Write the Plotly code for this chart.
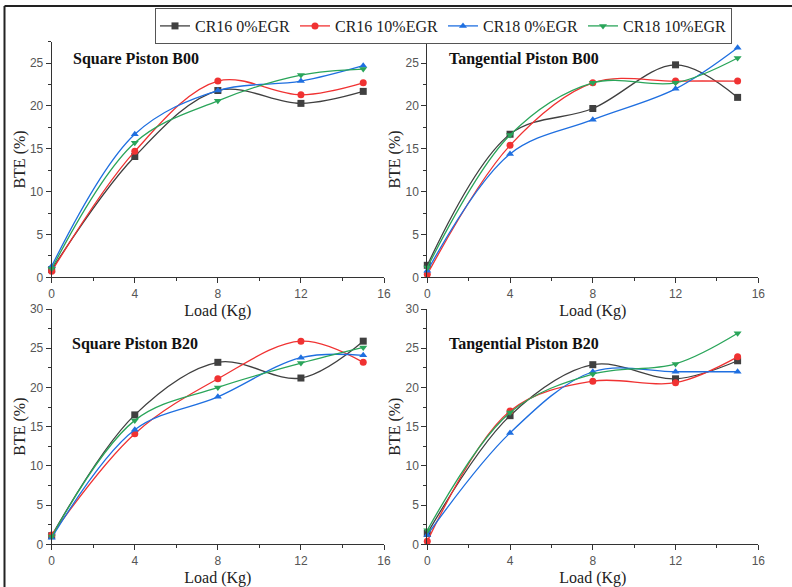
import plotly.graph_objects as go

load = [0, 4, 8, 12, 15]
series_names = ["CR16 0%EGR", "CR16 10%EGR", "CR18 0%EGR", "CR18 10%EGR"]

# Square Piston B00
sq_b00_cr16_0 = [0.9, 14.1, 21.8, 20.3, 21.7]
sq_b00_cr16_10 = [0.7, 14.7, 22.9, 21.3, 22.7]
sq_b00_cr18_0 = [1.3, 16.7, 21.8, 22.9, 24.7]
sq_b00_cr18_10 = [1.0, 15.7, 20.6, 23.6, 24.3]

# Tangential Piston B00
tg_b00_cr16_0 = [1.4, 16.7, 19.7, 24.8, 21.0]
tg_b00_cr16_10 = [0.35, 15.4, 22.7, 22.9, 22.9]
tg_b00_cr18_0 = [0.75, 14.4, 18.4, 22.0, 26.8]
tg_b00_cr18_10 = [1.15, 16.6, 22.7, 22.7, 25.6]

# Square Piston B20
sq_b20_cr16_0 = [1.1, 16.5, 23.2, 21.2, 25.9]
sq_b20_cr16_10 = [1.2, 14.1, 21.1, 25.9, 23.2]
sq_b20_cr18_0 = [0.85, 14.6, 18.8, 23.8, 24.1]
sq_b20_cr18_10 = [1.0, 15.8, 20.0, 23.1, 25.1]

# Tangential Piston B20
tg_b20_cr16_0 = [1.4, 16.4, 22.9, 21.1, 23.4]
tg_b20_cr16_10 = [0.4, 17.0, 20.8, 20.6, 23.9]
tg_b20_cr18_0 = [1.2, 14.2, 22.0, 22.0, 22.0]
tg_b20_cr18_10 = [1.8, 16.8, 21.7, 23.0, 26.9]

panels = [
    ("Square Piston B00", [sq_b00_cr16_0, sq_b00_cr16_10, sq_b00_cr18_0, sq_b00_cr18_10]),
    ("Tangential Piston B00", [tg_b00_cr16_0, tg_b00_cr16_10, tg_b00_cr18_0, tg_b00_cr18_10]),
    ("Square Piston B20", [sq_b20_cr16_0, sq_b20_cr16_10, sq_b20_cr18_0, sq_b20_cr18_10]),
    ("Tangential Piston B20", [tg_b20_cr16_0, tg_b20_cr16_10, tg_b20_cr18_0, tg_b20_cr18_10]),
]

colors = ["#404040", "#f03232", "#1f6fe0", "#2aa55a"]
symbols = ["square", "circle", "triangle-up", "triangle-down"]

W, H = 792, 587
def px(x):
    return x / W
def py(y):
    return 1 - y / H

xdoms = [(px(51.7), px(384)), (px(427.3), px(758.3))]
ydoms = [(py(277.3), py(41.7)), (py(544.3), py(309))]
yranges = [[0, 27.5], [0, 30]]

fig = go.Figure()
serif = "Liberation Serif"
sans = "Liberation Sans"

title_pos = [(71, 59), (447, 59), (70, 344), (447, 344)]

for i, (title, data) in enumerate(panels):
    row, col = divmod(i, 2)
    ax = "" if i == 0 else str(i + 1)
    for j, vals in enumerate(data):
        fig.add_trace(go.Scatter(
            x=load, y=vals, mode="lines+markers", name=series_names[j],
            line=dict(color=colors[j], width=1.3, shape="spline", smoothing=1.0),
            marker=dict(symbol=symbols[j], size=7, color=colors[j]),
            cliponaxis=False, showlegend=(i == 0), legendgroup=series_names[j],
            xaxis="x" + ax, yaxis="y" + ax,
        ))
    axis_common = dict(
        showgrid=False, zeroline=False, showline=True, linecolor="#333333", linewidth=1,
        ticks="outside", ticklen=5, tickcolor="#333333", automargin=False,
        tickfont=dict(family=sans, size=12, color="#555555"),
    )
    fig.layout["xaxis" + ax] = dict(
        axis_common, domain=xdoms[col], range=[0, 16], tickmode="linear", tick0=0, dtick=4,
        anchor="y" + ax,
        title=dict(text="Load (Kg)", font=dict(family=serif, size=16, color="#222222"), standoff=5),
        minor=dict(ticks="outside", ticklen=3, tickcolor="#333333", dtick=2, tick0=0),
    )
    fig.layout["yaxis" + ax] = dict(
        axis_common, domain=ydoms[row], range=yranges[row], tickmode="linear", tick0=0, dtick=5,
        anchor="x" + ax,
        title=dict(text="BTE (%)", font=dict(family=serif, size=16, color="#222222"), standoff=0),
        minor=dict(ticks="outside", ticklen=3, tickcolor="#333333", dtick=2.5, tick0=0),
    )
    tx, ty = title_pos[i]
    fig.add_annotation(
        x=px(tx), y=py(ty), xref="paper", yref="paper", xanchor="left", yanchor="middle",
        text="<b>" + title + "</b>", showarrow=False,
        font=dict(family=serif, size=16, color="#111111"),
    )

# outer frame lines
fig.add_shape(type="line", xref="paper", yref="paper", x0=px(4.5), x1=px(4.5), y0=py(6), y1=py(600),
              line=dict(color="#222222", width=2))
fig.add_shape(type="line", xref="paper", yref="paper", x0=px(4.5), x1=px(800), y0=py(6), y1=py(6),
              line=dict(color="#222222", width=2))

fig.update_layout(
    width=W, height=H, margin=dict(l=0, r=0, t=0, b=0),
    plot_bgcolor="white", paper_bgcolor="white",
    legend=dict(
        orientation="h", x=px(155), y=py(8), xanchor="left", yanchor="top",
        bordercolor="#555555", borderwidth=1, bgcolor="white",
        font=dict(family=serif, size=16, color="#222222"),
        tracegroupgap=0,
    ),
    showlegend=True,
)

fig.write_html(
    "out.html",
    config={"displayModeBar": False},
    post_script="document.documentElement.style.margin='0';document.body.style.margin='0';document.body.style.padding='0';document.body.style.overflow='hidden';",
)
